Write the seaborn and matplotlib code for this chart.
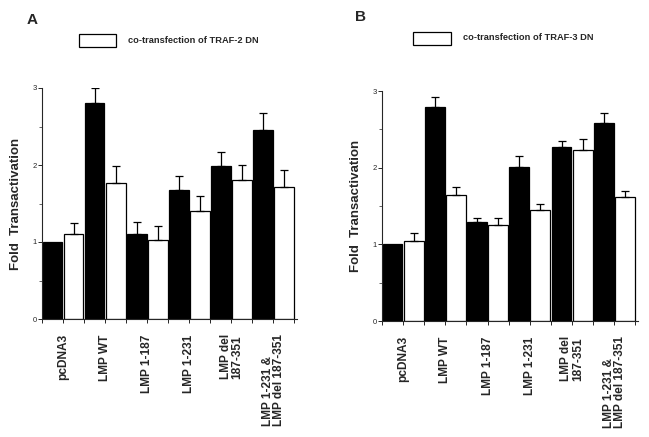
import matplotlib
matplotlib.use("Agg")
import matplotlib.pyplot as plt
from matplotlib.patches import Rectangle
from matplotlib.ticker import MultipleLocator, FixedLocator
import pandas as pd
import seaborn as sns

# data
categories = ["pcDNA3", "LMP WT", "LMP 1-187", "LMP 1-231",
              "LMP del\n187-351", "LMP 1-231 &\nLMP del 187-351"]
hue_levels = ["control", "dn"]

a_ctrl = [1.00, 2.80, 1.11, 1.68, 1.99, 2.45]
a_ctrl_err = [0.00, 0.20, 0.15, 0.18, 0.18, 0.22]
a_dn = [1.10, 1.76, 1.03, 1.40, 1.81, 1.72]
a_dn_err = [0.15, 0.23, 0.18, 0.20, 0.19, 0.22]

b_ctrl = [1.00, 2.79, 1.29, 2.01, 2.27, 2.58]
b_ctrl_err = [0.00, 0.13, 0.05, 0.14, 0.08, 0.13]
b_dn = [1.04, 1.65, 1.25, 1.45, 2.23, 1.62]
b_dn_err = [0.11, 0.10, 0.09, 0.08, 0.14, 0.08]

legend_a = "co-transfection of TRAF-2 DN"
legend_b = "co-transfection of TRAF-3 DN"

sns.set_style("ticks")
plt.rcParams["font.family"] = ["Liberation Sans", "DejaVu Sans"]


def make_df(ctrl, dn, ctrl_err, dn_err):
    rows = []
    for i, cat in enumerate(categories):
        rows.append({"cat": cat, "cond": "control", "val": ctrl[i], "err": ctrl_err[i]})
        rows.append({"cat": cat, "cond": "dn", "val": dn[i], "err": dn_err[i]})
    return pd.DataFrame(rows)


def draw_panel(ax, df):
    sns.barplot(data=df, x="cat", y="val", hue="cond", order=categories,
                hue_order=hue_levels, palette={"control": "black", "dn": "white"},
                edgecolor="black", linewidth=0.9, width=1.0, gap=0.06,
                errorbar=None, legend=False, ax=ax)
    # upper-only error bars placed on the drawn bars
    bars = sorted([p for p in ax.patches if p.get_width() > 0],
                  key=lambda p: p.get_x())
    errs = []
    for i in range(len(categories)):
        sub = df[df["cat"] == categories[i]]
        errs += list(sub.set_index("cond").loc[hue_levels, "err"])
    for p, e in zip(bars, errs):
        if e > 0:
            ax.errorbar(p.get_x() + p.get_width() / 2, p.get_height(),
                        yerr=[[0], [e]], fmt="none", ecolor="black",
                        elinewidth=0.9, capsize=3, capthick=0.9, zorder=1)

    ax.set_ylim(0, 3)
    ax.set_xlim(-0.5, 5.56)
    ax.yaxis.set_major_locator(MultipleLocator(1))
    ax.yaxis.set_minor_locator(MultipleLocator(0.5))
    ax.xaxis.set_minor_locator(FixedLocator([k + 0.5 for k in range(-1, 6)]))
    ax.set_xticks(range(len(categories)))
    ax.set_xticklabels(categories, rotation=90, fontsize=8.6, fontweight="bold",
                       va="top", ha="center", multialignment="left",
                       linespacing=0.95)
    ax.tick_params(axis="x", which="both", length=3, width=0.7, pad=8)
    ax.tick_params(axis="y", which="major", length=3, width=0.7, labelsize=5.5, pad=1)
    ax.tick_params(axis="y", which="minor", length=2, width=0.5)
    ax.set_xlabel("")
    ax.set_ylabel("Fold  Transactivation", fontsize=9.5, fontweight="bold", labelpad=7)
    sns.despine(ax=ax)
    for s in ["left", "bottom"]:
        ax.spines[s].set_linewidth(0.8)


fig = plt.figure(figsize=(6.49, 4.37), dpi=100)
W, H = 649, 437

ax_a = fig.add_axes([42 / W, 1 - 319 / H, 255 / W, 231 / H])
draw_panel(ax_a, make_df(a_ctrl, a_dn, a_ctrl_err, a_dn_err))

ax_b = fig.add_axes([382 / W, 1 - 321 / H, 256 / W, 230 / H])
draw_panel(ax_b, make_df(b_ctrl, b_dn, b_ctrl_err, b_dn_err))

# panel letters
fig.text(27 / W, 1 - 20 / H, "A", fontsize=11, fontweight="bold", va="center")
fig.text(355 / W, 1 - 17 / H, "B", fontsize=11, fontweight="bold", va="center")

# legend boxes
fig.patches.append(Rectangle((79 / W, 1 - 47 / H), 37 / W, 13 / H,
                             transform=fig.transFigure, facecolor="white",
                             edgecolor="black", linewidth=0.9))
fig.text(128 / W, 1 - 40.5 / H, legend_a, fontsize=6.7, fontweight="bold", va="center")
fig.patches.append(Rectangle((413 / W, 1 - 45 / H), 38 / W, 13 / H,
                             transform=fig.transFigure, facecolor="white",
                             edgecolor="black", linewidth=0.9))
fig.text(463 / W, 1 - 38 / H, legend_b, fontsize=6.7, fontweight="bold", va="center")

fig.savefig("out.png", dpi=100)
